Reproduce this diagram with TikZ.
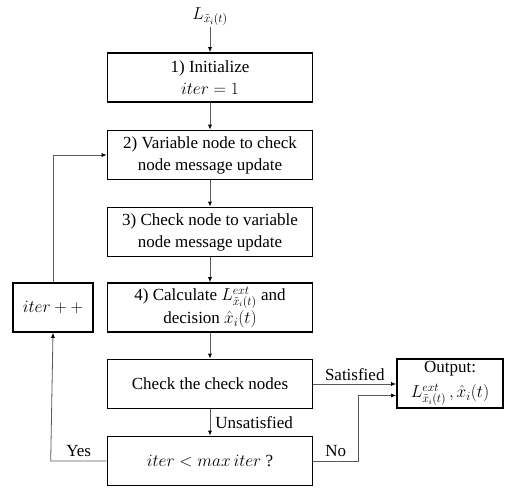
\documentclass[tikz,border=0pt]{standalone}
\usepackage{fontspec}
\setmainfont{Liberation Serif}
\usetikzlibrary{arrows.meta}
\begin{document}
\begin{tikzpicture}[x=1pt,y=-1pt,
  every node/.style={font=\fontsize{17}{22}\selectfont},
  box/.style={draw, line width=1.6pt, rectangle, align=center, minimum width=205pt, minimum height=49pt, inner sep=2pt},
  conn/.style={draw=black!65, line width=0.8pt, -{Latex[length=5pt,width=4pt,black]}},
  lbl/.style={inner sep=1pt}]
\useasboundingbox (0,0) rectangle (516,487);
\node[lbl] (in) at (210,17) {$L_{\tilde{x}_i(t)}$};
\node[box] (b1) at (210,77.5) {1) Initialize\\ $iter = 1$};
\node[box] (b2) at (210,155) {2) Variable node to check\\ node message update};
\node[box] (b3) at (210,232) {3) Check node to variable\\ node message update};
\node[box] (b4) at (210,307.5) {4) Calculate $L^{ext}_{\tilde{x}_i(t)}$ and\\[1pt] decision $\hat{x}_i(t)$};
\node[box] (b5) at (210,384) {Check the check nodes};
\node[box] (b6) at (210,461) {$iter < max\, iter$ ?};
\node[box, minimum width=80pt] (pp) at (53,307.5) {$iter + +$};
\node[box, minimum width=106pt] (out) at (450,383.5) {Output:\\[3pt] $L^{ext}_{\tilde{x}_i(t)}\,,\hat{x}_i(t)$};
\draw[conn] (in) -- (b1);
\draw[conn] (b1) -- (b2);
\draw[conn] (b2) -- (b3);
\draw[conn] (b3) -- (b4);
\draw[conn] (b4) -- (b5);
\draw[conn] (b5) -- node[lbl, right=4pt] {Unsatisfied} (b6);
\draw[conn] (b5.east) -- node[lbl, above=2pt] {Satisfied} (b5.east -| out.west);
\draw[conn] (b6.east) -- node[lbl, above=3pt, pos=0.5] {No} ++(45,0) |- ([yshift=-12pt]out.west);
\draw[conn] (b6.west) -- node[lbl, above=3pt, pos=0.5] {Yes} ++(-56,0) -- (pp.south);
\draw[conn] (pp.north) |- (b2.west);
\end{tikzpicture}
\end{document}
